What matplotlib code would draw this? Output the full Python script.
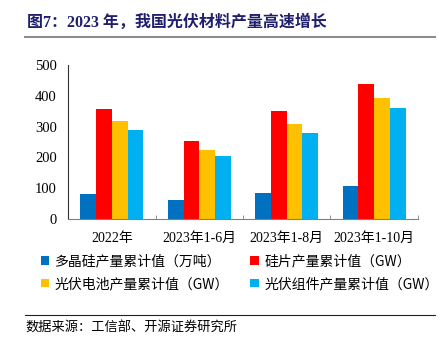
import matplotlib
matplotlib.use("Agg")
import matplotlib.pyplot as plt
import numpy as np

plt.rcParams['font.family'] = ['Liberation Serif', 'Noto Sans CJK SC', 'DejaVu Sans']

categories = ['2022年', '2023年1-6月', '2023年1-8月', '2023年1-10月']
polysilicon = [82.7, 61, 84, 106]      # 万吨
wafers = [357, 253, 352, 438]           # GW
cells = [318, 224, 308, 391]            # GW
modules = [289, 204, 279, 359]          # GW

series = [
    ('多晶硅产量累计值（万吨）', polysilicon, '#0070C0'),
    ('硅片产量累计值（GW）', wafers, '#FF0000'),
    ('光伏电池产量累计值（GW）', cells, '#FFC000'),
    ('光伏组件产量累计值（GW）', modules, '#00B0F0'),
]

fig = plt.figure(figsize=(4.45, 3.45), dpi=100)
ax = fig.add_axes([0.153, 0.365, 0.786, 0.447])

x = np.arange(len(categories))
w = 0.18
bars = []
for i, (name, vals, col) in enumerate(series):
    bars.append(ax.bar(x + (i - 1.5) * w, vals, width=w, color=col, label=name))

ax.set_xlim(-0.5, len(categories) - 0.5)
ax.set_ylim(0, 500)
ax.set_yticks(range(0, 501, 100))
ax.tick_params(axis='y', length=0, labelsize=10.5, pad=8)
ax.set_xticks(x)
ax.set_xticklabels(categories, fontsize=10)
ax.tick_params(axis='x', which='major', length=0, pad=9)
ax.set_xticks(x + 0.5, minor=True)
ax.tick_params(axis='x', which='minor', direction='in', length=3, color='#808080')

for s in ['top', 'right']:
    ax.spines[s].set_visible(False)
ax.spines['left'].set_color('#333333')
ax.spines['bottom'].set_color('#808080')

# legend fills by column, so order the handles to read row by row
order = [0, 2, 1, 3]
fig.legend([bars[i] for i in order], [series[i][0] for i in order],
           loc='upper left', bbox_to_anchor=(0.08, 0.278), ncol=2, frameon=False,
           handlelength=0.6, handleheight=0.6, handletextpad=0.4,
           columnspacing=1.5, labelspacing=0.6, borderaxespad=0,
           prop={'family': ['Noto Sans CJK SC', 'Liberation Serif'], 'size': 10})

fig.text(0.06, 0.935, '图7：2023 年，我国光伏材料产量高速增长', fontsize=11.5,
         fontweight='bold', color='#1F1F6E', va='center',
         family=['Liberation Serif', 'Noto Sans CJK SC'])
fig.add_artist(plt.Line2D([0.056, 0.978], [0.893, 0.893], color='#8C8C8C', lw=1.5))
fig.add_artist(plt.Line2D([0.056, 0.978], [0.087, 0.087], color='#222222', lw=0.8))
fig.text(0.058, 0.05, '数据来源：工信部、开源证券研究所', fontsize=9.5, va='center',
         family=['Noto Sans CJK SC'])

fig.savefig('out.png', dpi=100)
